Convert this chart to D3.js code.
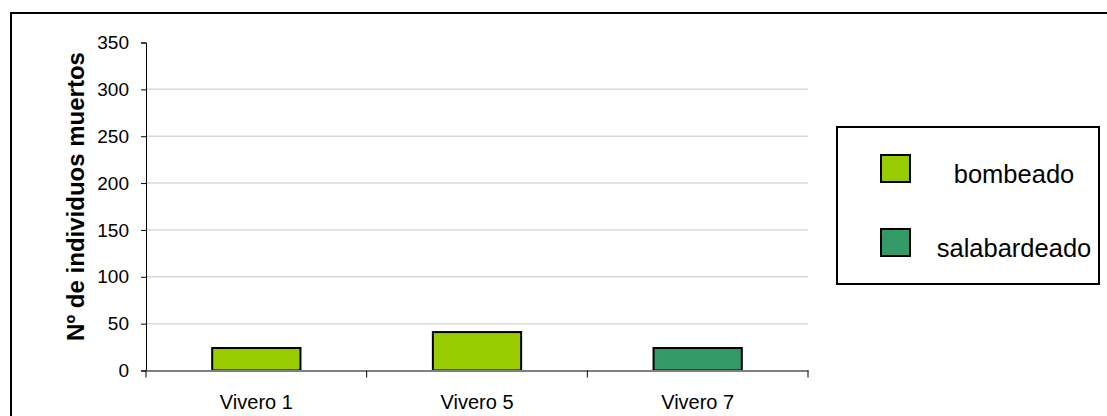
<!DOCTYPE html>
<html>
<head>
<meta charset="utf-8">
<script src="https://cdn.jsdelivr.net/npm/d3@7"></script>
<style>
  html, body { margin: 0; padding: 0; background: #fff; }
  svg { display: block; font-family: "Liberation Sans", Arial, sans-serif; }
</style>
</head>
<body>
<svg id="chart" width="1107" height="416"></svg>
<script>
// Mortality counts per nursery and collection method
const categories = ["Vivero 1", "Vivero 5", "Vivero 7"];
const values = [24, 41, 24];
const methods = ["bombeado", "bombeado", "salabardeado"];
const legendLabels = ["bombeado", "salabardeado"];
const legendColors = ["#99CC00", "#339966"];
const yTicks = [0, 50, 100, 150, 200, 250, 300, 350];
const yTitle = "Nº de individuos muertos";

const svg = d3.select("#chart");
const plot = { left: 146, right: 808, top: 42.5, bottom: 370.5 };

// outer frame (runs past the right and bottom edges)
svg.append("rect")
  .attr("x", 11).attr("y", 13)
  .attr("width", 1120).attr("height", 430)
  .attr("fill", "none").attr("stroke", "#000").attr("stroke-width", 2);

const x = d3.scaleBand().domain(categories).range([plot.left, plot.right]).padding(0);
const y = d3.scaleLinear().domain([0, 350]).range([plot.bottom, plot.top]);
const color = d3.scaleOrdinal().domain(legendLabels).range(legendColors);

// horizontal gridlines
svg.append("g")
  .selectAll("line")
  .data(yTicks.filter(t => t > 0 && t < 350))
  .join("line")
  .attr("x1", plot.left).attr("x2", plot.right)
  .attr("y1", d => y(d)).attr("y2", d => y(d))
  .attr("stroke", "#d9d9d9").attr("stroke-width", 1.5);

// y axis
const yAxis = svg.append("g")
  .attr("transform", `translate(${plot.left},0)`)
  .call(d3.axisLeft(y).tickValues(yTicks).tickSize(5).tickPadding(12));
yAxis.select(".domain").attr("stroke", "#000").attr("stroke-width", 1);
yAxis.selectAll(".tick line").attr("stroke", "#000");
yAxis.selectAll(".tick text")
  .attr("font-size", 19).attr("fill", "#000")
  .attr("font-family", "'Liberation Sans', Arial, sans-serif");

// bars
const barW = x.bandwidth() * 0.4;
svg.append("g")
  .selectAll("rect")
  .data(categories.map((c, i) => ({ c, v: values[i], m: methods[i] })))
  .join("rect")
  .attr("x", d => x(d.c) + (x.bandwidth() - barW) / 2)
  .attr("y", d => y(d.v))
  .attr("width", barW)
  .attr("height", d => y(0) - y(d.v))
  .attr("fill", d => color(d.m))
  .attr("stroke", "#000").attr("stroke-width", 2);

// x axis
const xAxis = svg.append("g")
  .attr("transform", `translate(0,${plot.bottom})`)
  .call(d3.axisBottom(x).tickSize(0).tickPadding(24));
xAxis.select(".domain").attr("stroke", "#808080").attr("stroke-width", 2);
xAxis.selectAll(".tick text")
  .attr("font-size", 20).attr("fill", "#000")
  .attr("font-family", "'Liberation Sans', Arial, sans-serif");
// category separators
const bounds = categories.map(c => x(c)).concat([plot.right]);
xAxis.selectAll(".sep")
  .data(bounds)
  .join("line")
  .attr("class", "sep")
  .attr("x1", d => d).attr("x2", d => d)
  .attr("y1", 0).attr("y2", 7)
  .attr("stroke", "#000").attr("stroke-width", 1);

// y axis title
svg.append("text")
  .attr("transform", `translate(84,${(51 + 342) / 2}) rotate(-90)`)
  .attr("text-anchor", "middle")
  .attr("font-size", 24).attr("font-weight", "bold")
  .text(yTitle);

// legend
const lg = svg.append("g");
lg.append("rect")
  .attr("x", 837).attr("y", 127).attr("width", 262).attr("height", 157)
  .attr("fill", "#fff").attr("stroke", "#000").attr("stroke-width", 2);
const items = lg.selectAll(".item")
  .data(legendLabels)
  .join("g")
  .attr("class", "item")
  .attr("transform", (d, i) => `translate(0,${i * 74})`);
items.append("rect")
  .attr("x", 881).attr("y", 155).attr("width", 29).attr("height", 27)
  .attr("fill", d => color(d)).attr("stroke", "#000").attr("stroke-width", 2);
items.append("text")
  .attr("x", 1014).attr("y", 183)
  .attr("text-anchor", "middle")
  .attr("font-size", 25.5)
  .text(d => d);
</script>
</body>
</html>
